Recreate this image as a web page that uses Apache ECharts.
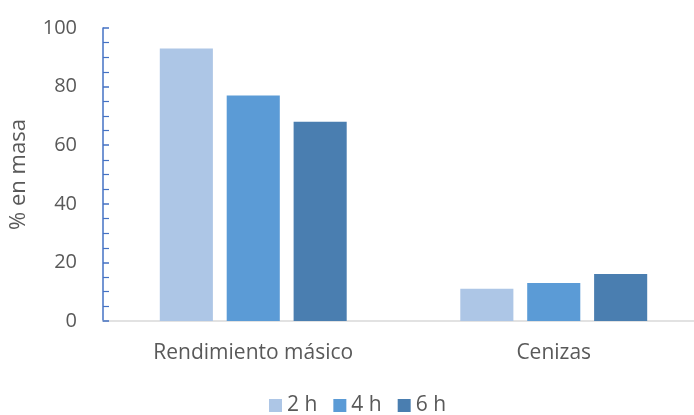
<!DOCTYPE html>
<html>
<head>
<meta charset="utf-8">
<script src="https://cdn.jsdelivr.net/npm/echarts@6/dist/echarts.min.js"></script>
<style>
  html, body { margin: 0; padding: 0; background: #fff; }
  #chart { width: 694px; height: 415px; }
</style>
</head>
<body>
<div id="chart"></div>
<script>
// Categories, series and values
const categories = ['Rendimiento másico', 'Cenizas'];
const seriesNames = ['2 h', '4 h', '6 h'];
const values2h = [93, 11];
const values4h = [77, 13];
const values6h = [68, 16];
const yTicks = [0, 20, 40, 60, 80, 100];

const colors = ['#ADC6E6', '#5B9BD6', '#4A7EB0'];
const seriesValues = [values2h, values4h, values6h];
const font = '"Open Sans", sans-serif';

const chart = echarts.init(document.getElementById('chart'));
chart.setOption({
  animation: false,
  textStyle: { fontFamily: font },
  // plot area runs slightly past the right edge of the canvas
  grid: { left: 103, width: 601, top: 28, bottom: 94, containLabel: false, outerBoundsMode: 'none' },
  legend: {
    bottom: -6,
    left: 264,
    itemWidth: 13,
    itemHeight: 13,
    itemGap: 16,
    icon: 'rect',
    textStyle: { color: '#595959', fontSize: 21, fontFamily: font },
    data: seriesNames
  },
  xAxis: {
    type: 'category',
    data: categories,
    axisLine: { lineStyle: { color: '#D9D9D9', width: 1.5 } },
    axisTick: { show: false },
    axisLabel: { color: '#595959', fontSize: 21, margin: 22, fontFamily: font }
  },
  yAxis: {
    type: 'value',
    min: yTicks[0],
    max: yTicks[yTicks.length - 1],
    interval: 20,
    name: '% en masa',
    nameLocation: 'middle',
    nameGap: 73,
    nameTextStyle: { color: '#595959', fontSize: 22, fontFamily: font },
    axisLine: { show: true, lineStyle: { color: '#4472C4', width: 1.5 } },
    axisTick: { show: true, inside: true, length: 6, lineStyle: { color: '#4472C4', width: 1.5 } },
    minorTick: { show: true, splitNumber: 4, length: 6, lineStyle: { color: '#4472C4', width: 1.2 } },
    axisLabel: { color: '#595959', fontSize: 20, margin: 26, fontFamily: font },
    splitLine: { show: false }
  },
  series: seriesNames.map((name, i) => ({
    name: name,
    type: 'bar',
    data: seriesValues[i],
    barGap: '26%',
    barCategoryGap: '37.8%',
    itemStyle: { color: colors[i] }
  }))
});
</script>
</body>
</html>
